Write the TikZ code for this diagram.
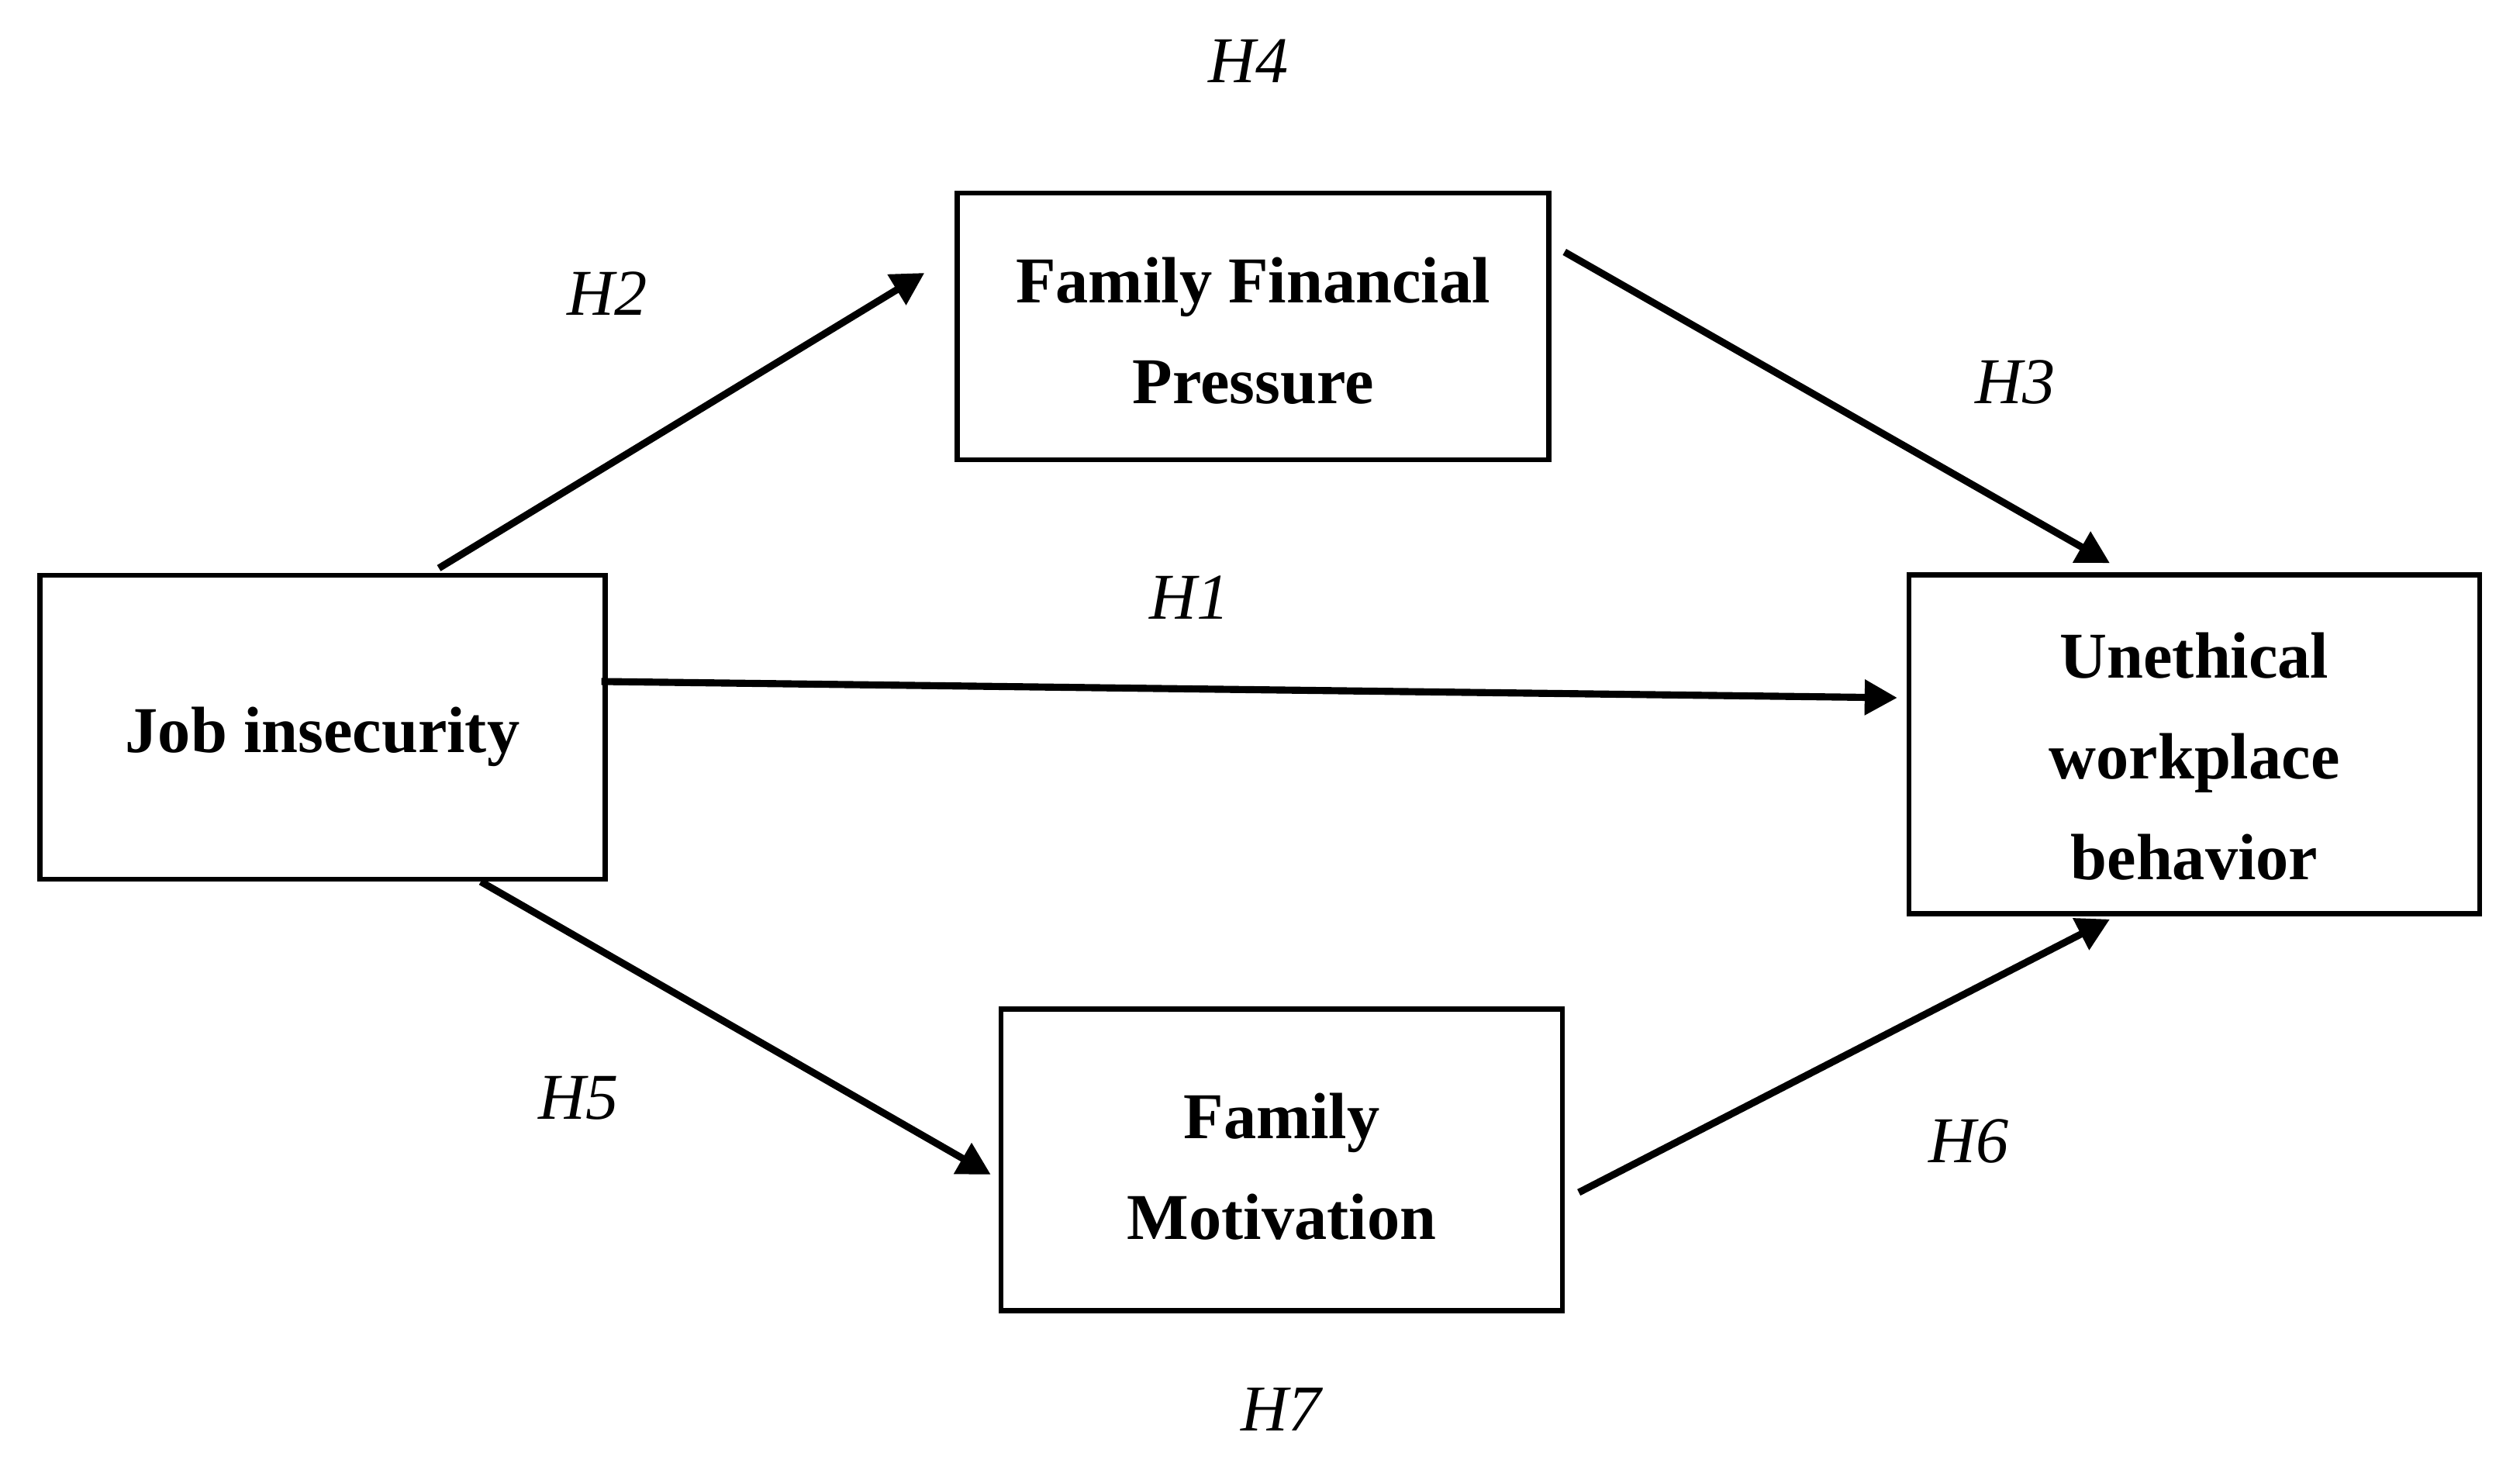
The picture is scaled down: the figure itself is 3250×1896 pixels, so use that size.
\documentclass[tikz,border=0pt]{standalone}
\usepackage{fontspec}
\setmainfont{Liberation Serif}
\usetikzlibrary{arrows.meta,positioning,calc}

\begin{document}
\begin{tikzpicture}[
  x=0.05mm, y=-0.05mm,
  construct/.style={draw, line width=0.9pt, inner sep=0pt},
  caption/.style={align=center, inner sep=0pt,
    font=\bfseries\fontsize{12}{18.5}\selectfont},
  hyp/.style={font=\itshape\fontsize{12}{14}\selectfont},
  link/.style={line width=1.3pt, -{Triangle[length=2.1mm, width=2.2mm]}}
]
  \useasboundingbox (0,0) rectangle (3250,1896);

  % constructs
  \node[construct, minimum width=36.45mm, minimum height=19.6mm,
    label={[name=JIt, caption, yshift=-0.6mm]center:Job insecurity}] (JI) at (416,938) {};
  \node[construct, minimum width=38.15mm, minimum height=17.2mm,
    label={[name=FFPt, caption, yshift=-0.3mm]center:Family Financial\\Pressure}] (FFP) at (1616,421) {};
  \node[construct, minimum width=36.8mm, minimum height=21.85mm,
    label={[name=UWBt, caption, yshift=-0.8mm]center:Unethical\\workplace\\behavior}] (UWB) at (2830,960) {};
  \node[construct, minimum width=36.2mm, minimum height=19.45mm,
    label={[name=FMt, caption, yshift=-0.45mm]center:Family\\Motivation}] (FM) at (1653,1496) {};

  % paths
  \draw[link] ($(JI.north)+(150,-6)$) -- ($(FFP.west)+(-39,-69)$);
  \draw[link] ($(FFP.east)+(17,-96)$) -- ($(UWB.north)+(-109,-12)$);
  \draw[link] ($(JI.east)+(-8,-59)$) -- ($(UWB.west)+(-12,-60)$);
  \draw[link] ($(JI.south)+(204,0)$) -- ($(FM.west)+(-10,19)$);
  \draw[link] ($(FM.east)+(18,42)$) -- ($(UWB.south)+(-109,4)$);

  % hypotheses
  \node[hyp] (H4) at (1610,79) {H4};
  \node[hyp] (H2) at (783,379) {H2};
  \node[hyp] (H3) at (2599,493) {H3};
  \node[hyp] (H1) at (1534,771) {H1};
  \node[hyp] (H5) at (746,1416) {H5};
  \node[hyp] (H6) at (2539,1472) {H6};
  \node[hyp] (H7) at (1652,1818) {H7};
\end{tikzpicture}
\end{document}
